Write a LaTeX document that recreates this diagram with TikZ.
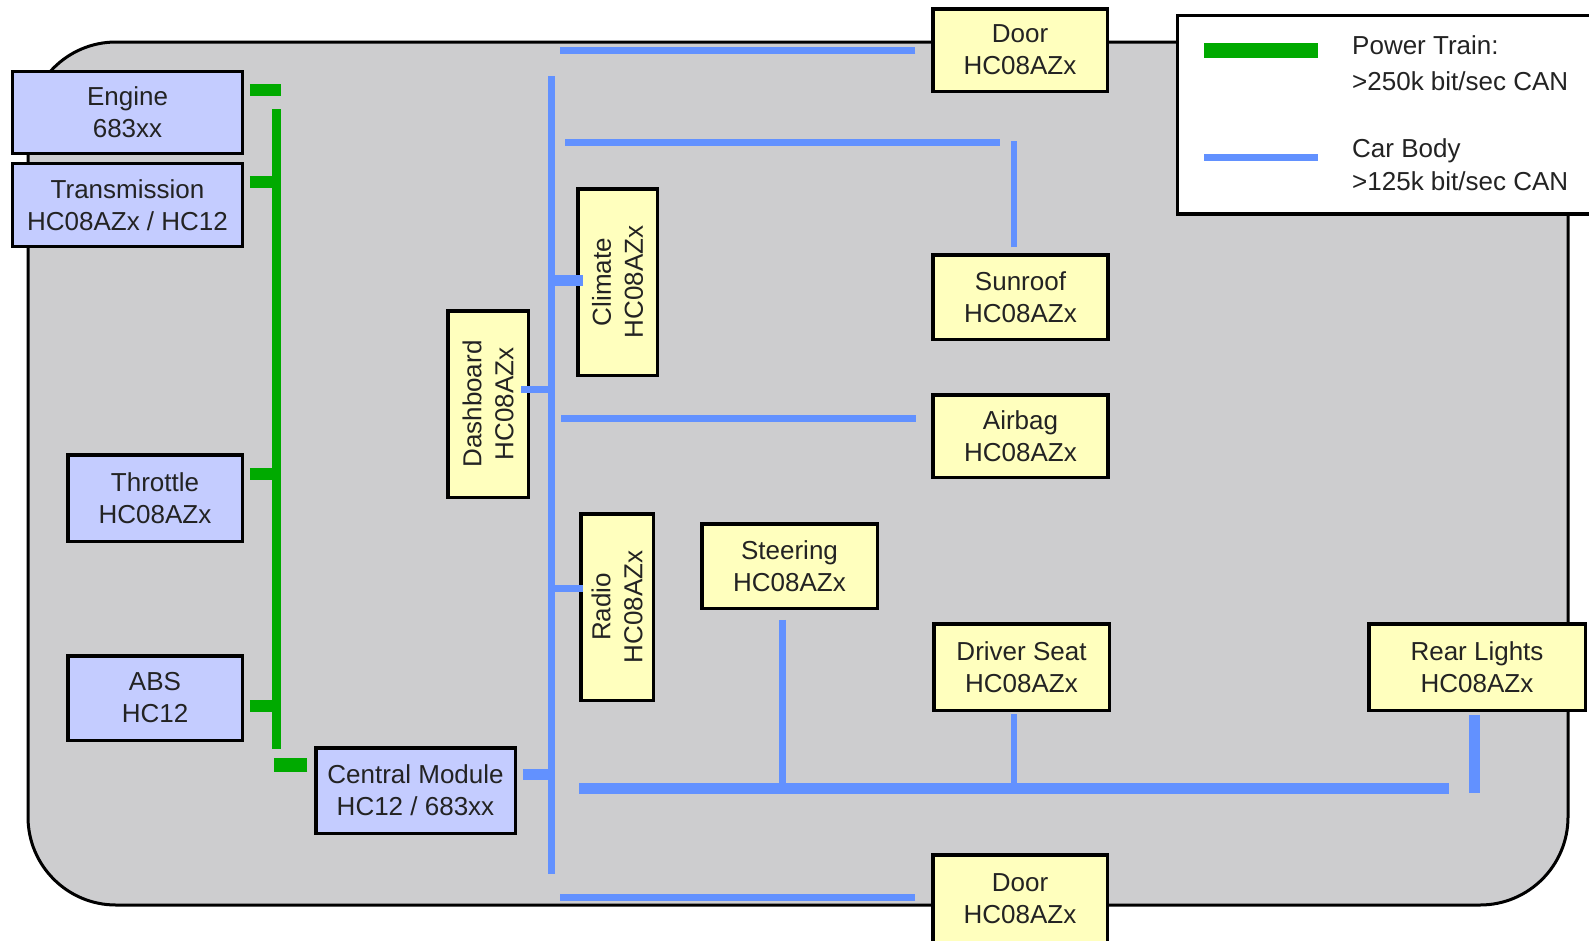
\documentclass[tikz,border=0pt]{standalone}
\usepackage{fontspec}
\setmainfont{Liberation Sans}
\usetikzlibrary{calc}
\definecolor{bodygray}{RGB}{205,205,207}
\definecolor{pgreen}{RGB}{0,170,0}
\definecolor{cblue}{RGB}{98,145,255}
\definecolor{bfill}{RGB}{196,204,255}
\definecolor{yfill}{RGB}{255,255,190}
\definecolor{txt}{RGB}{35,35,35}
\tikzset{
  ecu/.style={draw=black, line width=3.5pt, inner sep=0pt, align=center, text=txt,
    font=\fontsize{26}{32}\selectfont},
  pbox/.style={ecu, fill=bfill},
  ybox/.style={ecu, fill=yfill},
  gline/.style={draw=pgreen, line width=#1},
  gline/.default=12pt,
  bline/.style={draw=cblue, line width=#1},
  bline/.default=7pt,
  legtext/.style={anchor=base west, inner sep=0pt, text=txt, font=\fontsize{26}{32}\selectfont},
}
\begin{document}
\begin{tikzpicture}[x=1pt,y=-1pt]
\useasboundingbox (0,0) rectangle (1589,940);
\clip (0,0) rectangle (1589,940);
\fill[white] (0,0) rectangle (1589,940);
% car body
\draw[line width=3pt, fill=bodygray, rounded corners=88pt] (28,42) rectangle (1568,905);

% power train ECUs
\node[pbox, minimum width=230pt, minimum height=82pt] (engine) at (127.5,112.5) {Engine\\683xx};
\node[pbox, minimum width=230pt, minimum height=83pt] (trans) at (127.5,205) {Transmission\\HC08AZx / HC12};
\node[pbox, minimum width=174.5pt, minimum height=86.5pt] (throttle) at (155,498) {Throttle\\HC08AZx};
\node[pbox, minimum width=174.5pt, minimum height=84.5pt] (abs) at (155,698) {ABS\\HC12};
\node[pbox, minimum width=199.5pt, minimum height=85.5pt] (central) at (415.5,790.5) {Central Module\\HC12 / 683xx};

% body ECUs
\node[ybox, minimum width=174.5pt, minimum height=82.5pt] (doortop) at (1020,50) {Door\\HC08AZx};
\node[ybox, minimum width=175pt, minimum height=84.5pt] (sunroof) at (1020.5,297) {Sunroof\\HC08AZx};
\node[ybox, minimum width=175pt, minimum height=82.5pt] (airbag) at (1020.5,436) {Airbag\\HC08AZx};
\node[ybox, rotate=90, minimum width=186.5pt, minimum height=79.5pt] (climate) at (617.5,282) {Climate\\HC08AZx};
\node[ybox, rotate=90, minimum width=186.5pt, minimum height=80.5pt] (dash) at (488,404) {Dashboard\\HC08AZx};
\node[ybox, rotate=90, minimum width=186.5pt, minimum height=72.5pt] (radio) at (617,607) {Radio\\HC08AZx};
\node[ybox, minimum width=175.5pt, minimum height=84.5pt] (steer) at (789.5,566) {Steering\\HC08AZx};
\node[ybox, minimum width=175.5pt, minimum height=86.5pt] (driver) at (1021.5,667) {Driver Seat\\HC08AZx};
\node[ybox, minimum width=216.5pt, minimum height=86.5pt] (rear) at (1477,667) {Rear Lights\\HC08AZx};
\node[ybox, minimum width=174.5pt, minimum height=88.5pt] (doorbot) at (1020,899) {Door\\HC08AZx};

% power train bus
\coordinate (gT) at (276.5,109);
\coordinate (gB) at (276.5,749);
\draw[gline=9pt] (gT) -- (gB);
\draw[gline] ($(engine.east)+(5.5,-23)$) -- ++(31,0);
\draw[gline] ($(trans.east)+(5.5,-23.5)$) -- ++(28.5,0);
\draw[gline] ($(throttle.east)+(5.75,-24)$) -- ++(28.5,0);
\draw[gline] ($(abs.east)+(5.75,7.5)$) -- ++(28.5,0);
\draw[gline=14pt] ($(central.west)+(-6.75,-26)$) -- ++(-33,0);

% car body bus
\coordinate (bT) at (551.5,76);
\coordinate (bB) at (551.5,874);
\draw[bline] (bT) -- (bB);
\draw[bline] ($(doortop.west)+(-15.75,0.5)$) -- ++(-355,0);
\draw[bline] (565,142.5) -- ++(435,0);
\draw[bline=6pt] ($(sunroof.north)+(-6.5,-5.75)$) -- ++(0,-106);
\draw[bline=11pt] ($(climate.center)+(-34.5,-1.5)$) -- ++(-31.5,0);
\draw[bline] ($(dash.center)+(33,-14.5)$) -- ++(30.5,0);
\draw[bline] ($(airbag.west)+(-15.75,-17.5)$) -- ++(-355,0);
\draw[bline] ($(radio.center)+(-34,-19)$) -- ++(-31.5,0);
\draw[bline=11pt] ($(central.east)+(5.75,-16)$) -- ++(30.5,0);
\coordinate (hb1) at (579,788.5);
\coordinate (hb2) at (1449,788.5);
\draw[bline=11pt] (hb1) -- (hb2);
\draw[bline] ($(steer.south)+(-7,9.75)$) -- ++(0,170.5);
\draw[bline=6pt] ($(driver.south)+(-7.5,1.75)$) -- ++(0,76.5);
\draw[bline=11pt] ($(rear.south)+(-2.5,2.75)$) -- ++(0,78);
\draw[bline] ($(doorbot.west)+(-15.75,-1.5)$) -- ++(-355,0);

% legend
\node[draw=black, line width=3.5pt, fill=white, inner sep=0pt, anchor=north west,
      minimum width=422.5pt, minimum height=198.5pt] (legend) at (1175.75,13.75) {};
\coordinate (lg1) at (1204,50.5);
\coordinate (lg2) at (1318,50.5);
\draw[gline=15pt] (lg1) -- (lg2);
\coordinate (lb1) at (1204,157.5);
\coordinate (lb2) at (1318,157.5);
\draw[bline] (lb1) -- (lb2);
\node[legtext] (lt1) at (1352,54) {Power Train:};
\node[legtext] (lt2) at (1352,90) {>250k bit/sec CAN};
\node[legtext] (lt3) at (1352,157) {Car Body};
\node[legtext] (lt4) at (1352,190) {>125k bit/sec CAN};
\end{tikzpicture}
\end{document}
